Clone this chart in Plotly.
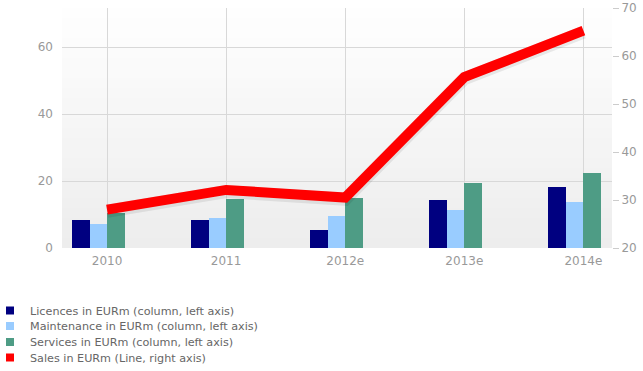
import plotly.graph_objects as go

categories = ["2010", "2011", "2012e", "2013e", "2014e"]
licences = [8.5, 8.5, 5.5, 14.2, 18.2]
maintenance = [7.2, 8.9, 9.7, 11.5, 13.6]
services = [10.5, 14.6, 14.9, 19.5, 22.5]
sales = [28.0, 32.1, 30.5, 55.6, 65.3]

names = ["Licences in EURm (column, left axis)",
         "Maintenance in EURm (column, left axis)",
         "Services in EURm (column, left axis)",
         "Sales in EURm (Line, right axis)"]
colors = ["#000080", "#99CCFF", "#4E9C85", "#FF0000"]

W, H = 643, 371
ML, MR, MT, MB = 62, 31, 7.5, 122.5
PW = W - ML - MR
xs = list(range(len(categories)))
bw = 0.147

fig = go.Figure()
for i, (vals, off) in enumerate([(licences, -2 * bw), (maintenance, -bw), (services, 0.0)]):
    fig.add_trace(go.Bar(x=xs, y=vals, name=names[i], marker_color=colors[i],
                         marker_line_width=0, width=bw, offset=off, yaxis="y",
                         showlegend=False))

# soft shadow of the line
fig.add_trace(go.Scatter(x=xs, y=[v - 0.35 for v in sales], mode="lines", yaxis="y2",
                         line=dict(color="rgba(0,0,0,0.08)", width=13),
                         showlegend=False, hoverinfo="skip"))
fig.add_trace(go.Scatter(x=xs, y=sales, mode="lines", yaxis="y2",
                         line=dict(color=colors[3], width=10), showlegend=False, name=names[3]))

# legend entries (one legend per row so the row spacing can follow the reference)
legend_rows_px = [310.5, 326, 342, 357.5]
legend_left_px = -10
legend_layout = {}
for i, name in enumerate(names):
    key = "legend" if i == 0 else f"legend{i + 1}"
    fig.add_trace(go.Scatter(x=[None], y=[None], mode="markers", name=name,
                             marker=dict(symbol="square", size=8, color=colors[i]),
                             legend=key, showlegend=True, hoverinfo="skip"))
    legend_layout[key] = dict(
        xref="paper", yref="container", x=(legend_left_px - ML) / PW,
        y=1 - legend_rows_px[i] / H,
        xanchor="left", yanchor="middle", itemwidth=30,
        font=dict(family="DejaVu Sans", size=11.2, color="#666666"),
        bgcolor="rgba(0,0,0,0)", borderwidth=0)

# background gradient
shapes = []
n = 24
for k in range(n):
    g = int(round(237 + (254 - 237) * k / (n - 1)))
    shapes.append(dict(type="rect", xref="paper", yref="paper", x0=0, x1=1,
                       y0=k / n, y1=(k + 1) / n, fillcolor=f"rgb({g},{g},{g})",
                       line_width=0, layer="below"))

fig.update_layout(
    width=W, height=H, showlegend=True,
    margin=dict(l=ML, r=MR, t=MT, b=MB, autoexpand=False),
    paper_bgcolor="white", plot_bgcolor="rgba(0,0,0,0)",
    barmode="overlay", bargap=0,
    shapes=shapes,
    font=dict(family="DejaVu Sans", size=12, color="#999999"),
    xaxis=dict(range=[-0.378, 4.24], tickmode="array", tickvals=xs, ticktext=categories,
               showgrid=True, gridcolor="#d8d8d8", gridwidth=1, zeroline=False,
               showline=False, ticks="", ticklabelstandoff=4,
               tickfont=dict(size=12, color="#999999")),
    yaxis=dict(range=[0, 71.7], tickvals=[0, 20, 40, 60], showgrid=True,
               gridcolor="#d8d8d8", zeroline=False, showline=False, ticks="",
               ticklabelstandoff=8, tickfont=dict(size=12, color="#999999")),
    yaxis2=dict(range=[20, 70], tickvals=[20, 30, 40, 50, 60, 70], overlaying="y",
                side="right", showgrid=False, zeroline=False, showline=False,
                ticks="outside", ticklen=6, tickcolor="#cccccc",
                tickfont=dict(size=12, color="#999999")),
    **legend_layout,
)

fig.write_html("out.html", config={"displayModeBar": False},
               post_script="document.body.style.margin='0';")
